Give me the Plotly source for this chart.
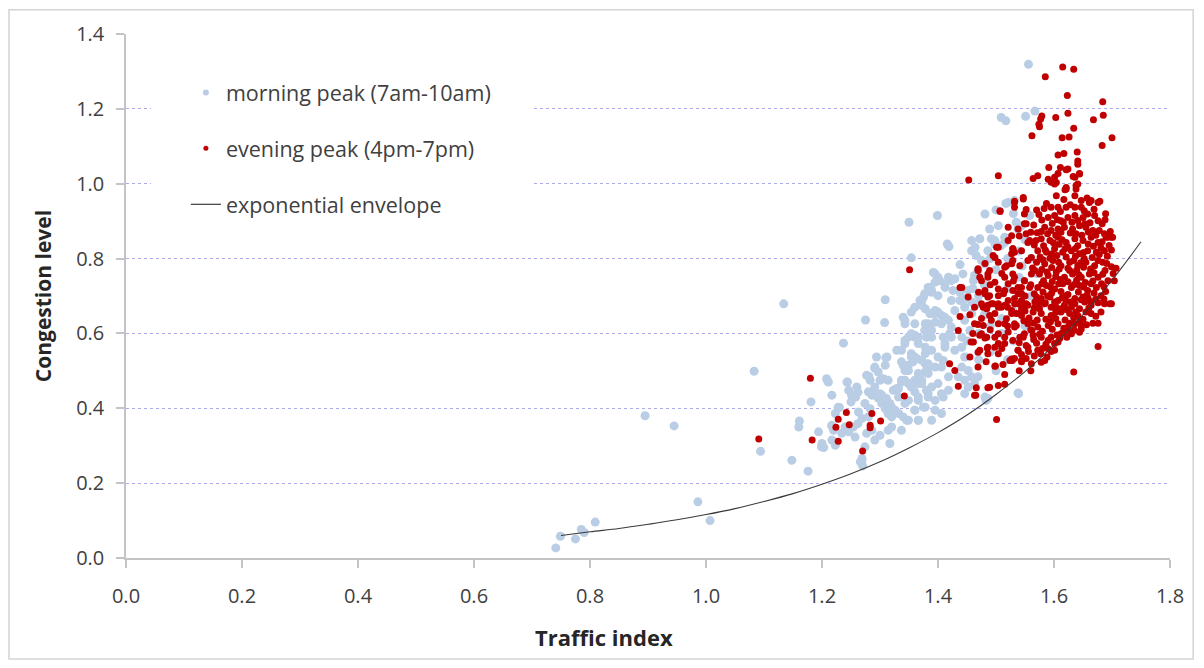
import plotly.graph_objects as go

# ---------------- data ----------------
morning_points = [
    (0.741,0.027),(0.749,0.058),(0.775,0.051),(0.785,0.076),(0.790,0.068),(0.809,0.096),
    (0.895,0.380),(0.945,0.353),(0.986,0.150),(1.007,0.100),(1.083,0.499),(1.094,0.285),
    (1.134,0.679),(1.148,0.261),(1.176,0.232),(1.161,0.366),(1.160,0.350),(1.181,0.417),
    (1.194,0.337),(1.200,0.301),(1.203,0.295),(1.200,0.306),(1.208,0.479),(1.211,0.470),
    (1.217,0.435),(1.237,0.574),(1.243,0.470),(1.246,0.448),(1.251,0.435),(1.260,0.457),
    (1.262,0.443),(1.258,0.430),(1.228,0.403),(1.223,0.386),(1.217,0.355),(1.220,0.341),
    (1.234,0.333),(1.246,0.337),(1.254,0.350),(1.262,0.359),(1.257,0.323),(1.217,0.315),
    (1.223,0.301),(1.263,0.390),(1.274,0.413),(1.283,0.399),(1.280,0.377),(1.269,0.373),
    (1.280,0.444),(1.286,0.435),(1.291,0.435),(1.297,0.427),(1.303,0.413),(1.309,0.399),
    (1.314,0.386),(1.320,0.377),(1.326,0.395),(1.317,0.413),(1.311,0.426),(1.303,0.435),
    (1.277,0.488),(1.283,0.475),(1.291,0.510),(1.297,0.497),(1.306,0.479),(1.314,0.475),
    (1.294,0.537),(1.312,0.537),(1.309,0.515),(1.329,0.555),(1.343,0.573),(1.360,0.590),
    (1.349,0.515),(1.340,0.515),(1.357,0.524),(1.360,0.537),(1.378,0.519),(1.378,0.497),
    (1.372,0.475),(1.360,0.475),(1.349,0.466),(1.337,0.470),(1.329,0.453),(1.323,0.448),
    (1.332,0.430),(1.343,0.413),(1.360,0.444),(1.366,0.421),(1.375,0.403),(1.366,0.368),
    (1.346,0.368),(1.337,0.341),(1.320,0.350),(1.314,0.341),(1.317,0.306),(1.300,0.328),
    (1.291,0.315),(1.286,0.341),(1.277,0.333),(1.274,0.297),(1.269,0.266),(1.266,0.257),
    (1.366,0.466),(1.380,0.448),(1.380,0.590),(1.269,0.261),(1.270,0.246),(1.281,0.485),
    (1.291,0.507),(1.310,0.535),(1.230,0.402),(1.217,0.352),(1.221,0.311),(1.240,0.350),
    (1.244,0.470),(1.250,0.417),(1.275,0.636),(1.308,0.629),(1.309,0.690),(1.340,0.643),
    (1.343,0.626),(1.199,0.297),(1.210,0.472),
    (1.349,0.590),(1.366,0.573),(1.354,0.546),(1.337,0.524),(1.343,0.501),(1.363,0.533),
    (1.378,0.546),(1.383,0.519),(1.383,0.493),(1.395,0.510),(1.343,0.475),(1.332,0.453),
    (1.300,0.475),(1.291,0.457),(1.286,0.439),(1.300,0.439),(1.309,0.426),(1.320,0.403),
    (1.332,0.386),(1.349,0.368),(1.360,0.395),(1.383,0.430),(1.395,0.395),(1.409,0.430),
    (1.409,0.528),(1.412,0.573),(1.372,0.688),(1.378,0.666),(1.389,0.653),(1.400,0.657),
    (1.383,0.626),(1.389,0.608),(1.395,0.759),(1.400,0.741),(1.389,0.715),(1.412,0.723),
    (1.350,0.897),(1.354,0.802),(1.399,0.915),
    (1.416,0.839),(1.419,0.832),(1.438,0.784),(1.458,0.848),(1.472,0.853),(1.458,0.821),
    (1.466,0.808),(1.481,0.919),(1.489,0.879),(1.504,0.888),(1.521,0.950),(1.535,0.897),
    (1.538,0.879),(1.392,0.763),(1.400,0.750),(1.418,0.750),(1.423,0.741),(1.412,0.733),
    (1.395,0.737),(1.383,0.723),(1.375,0.697),(1.389,0.710),(1.400,0.701),(1.426,0.715),
    (1.438,0.710),(1.446,0.693),(1.458,0.684),(1.438,0.688),(1.423,0.688),(1.452,0.715),
    (1.461,0.741),(1.463,0.755),(1.469,0.768),(1.481,0.786),(1.475,0.795),(1.486,0.821),
    (1.498,0.839),(1.492,0.853),(1.509,0.835),(1.515,0.857),(1.517,0.947),(1.532,0.955),
    (1.544,0.888),(1.558,0.915),(1.464,0.830),(1.498,0.848),(1.515,0.843),(1.443,0.759),
    (1.377,0.706),(1.369,0.688),(1.360,0.670),(1.354,0.657),(1.403,0.741),(1.386,0.723),
    (1.429,0.746),(1.412,0.643),(1.395,0.653),(1.383,0.621),(1.377,0.608),(1.360,0.595),
    (1.556,1.319),(1.509,1.177),(1.517,1.168),(1.551,1.180),(1.567,1.194),
    (1.372,0.675),(1.386,0.653),(1.395,0.661),(1.406,0.648),(1.418,0.635),(1.429,0.661),
    (1.446,0.670),(1.458,0.653),(1.469,0.679),(1.343,0.635),(1.360,0.626),(1.378,0.626),
    (1.395,0.630),(1.406,0.626),(1.423,0.617),(1.446,0.635),(1.455,0.608),(1.441,0.590),
    (1.423,0.590),(1.412,0.563),(1.429,0.555),(1.441,0.563),(1.446,0.537),(1.441,0.510),
    (1.452,0.501),(1.458,0.484),(1.446,0.475),(1.435,0.484),(1.418,0.484),(1.406,0.510),
    (1.400,0.537),(1.389,0.555),(1.378,0.563),(1.366,0.590),(1.354,0.599),(1.343,0.581),
    (1.337,0.555),(1.354,0.537),(1.372,0.528),(1.383,0.510),(1.366,0.493),(1.349,0.501),
    (1.337,0.475),(1.354,0.457),(1.372,0.466),(1.389,0.457),(1.383,0.439),(1.366,0.430),
    (1.349,0.421),(1.360,0.395),(1.378,0.403),(1.395,0.421),(1.406,0.439),(1.418,0.448),
    (1.400,0.466),(1.452,0.457),(1.446,0.439),(1.481,0.430),(1.483,0.421),(1.538,0.441),
    (1.340,0.377),(1.366,0.368),(1.389,0.368),(1.406,0.386),(1.469,0.484),(1.463,0.466),
    (1.420,0.599),(1.389,0.590),(1.409,0.590),(1.486,0.426),(1.539,0.439),
    (1.470,0.700),(1.490,0.620),(1.510,0.600),(1.520,0.720),(1.500,0.770),(1.530,0.660),
    (1.460,0.720),(1.480,0.730),(1.510,0.640),(1.540,0.750),(1.550,0.620),(1.560,0.700),
    (1.560,0.800),(1.550,0.850),(1.570,0.760),(1.580,0.680),(1.470,0.600),(1.490,0.550),
    (1.520,0.530),(1.500,0.500),(1.470,0.530),(1.530,0.580),(1.450,0.580),(1.480,0.650),
    (1.520,0.800),(1.540,0.820),(1.490,0.800),(1.530,0.920),(1.500,0.930),(1.545,0.780),
]

evening_points = [
    (1.091,0.318),(1.180,0.480),(1.183,0.315),(1.228,0.371),(1.224,0.349),(1.242,0.389),
    (1.247,0.356),(1.228,0.312),(1.270,0.286),(1.286,0.386),(1.283,0.355),(1.283,0.348),
    (1.301,0.366),(1.342,0.433),(1.351,0.770),
    (1.453,1.010),(1.504,1.021),(1.564,1.014),(1.572,1.021),(1.562,1.128),(1.574,1.159),
    (1.577,1.173),(1.579,1.181),(1.575,1.152),(1.585,1.286),(1.615,1.312),(1.634,1.306),
    (1.623,1.236),(1.624,1.188),(1.603,1.177),(1.634,1.148),(1.614,1.123),(1.626,1.125),
    (1.684,1.219),(1.685,1.183),(1.668,1.171),(1.683,1.102),(1.700,1.123),(1.607,1.077),
    (1.617,1.081),(1.640,1.085),(1.591,1.043),(1.607,1.027),(1.624,1.039),(1.641,1.052),
    (1.644,1.027),(1.590,1.012),(1.595,1.004),(1.604,1.003),(1.636,1.017),(1.641,0.999),
    (1.638,0.986),(1.619,0.984),(1.604,0.968),(1.636,0.968),(1.647,0.955),(1.664,0.955),
    (1.679,0.953),(1.547,0.959),(1.532,0.950),(1.507,0.926),(1.552,0.931),(1.611,1.043),
    (1.621,1.037),(1.641,1.061),(1.621,0.990),(1.601,1.017),(1.633,1.019),(1.644,1.026),
    (1.601,0.999),(1.621,0.986),(1.638,0.995),
    (1.595,0.937),(1.607,0.937),(1.621,0.937),(1.636,0.937),(1.647,0.937),(1.661,0.950),
    (1.676,0.950),(1.532,0.937),(1.549,0.919),(1.552,0.893),(1.538,0.879),
    (1.590,0.910),(1.601,0.915),(1.612,0.901),(1.624,0.910),(1.636,0.915),(1.650,0.910),
    (1.658,0.919),(1.670,0.915),(1.676,0.901),
    (1.584,0.884),(1.595,0.875),(1.607,0.879),(1.618,0.884),(1.632,0.879),(1.644,0.888),
    (1.655,0.884),(1.667,0.875),(1.678,0.875),
    (1.578,0.853),(1.593,0.848),(1.607,0.857),(1.621,0.843),(1.636,0.853),(1.650,0.848),
    (1.664,0.857),(1.676,0.843),(1.693,0.857),(1.701,0.857),
    (1.572,0.821),(1.587,0.817),(1.601,0.826),(1.615,0.817),(1.630,0.821),(1.644,0.813),
    (1.658,0.821),(1.673,0.817),(1.687,0.821),
    (1.570,0.790),(1.584,0.786),(1.598,0.795),(1.612,0.781),(1.627,0.790),(1.641,0.781),
    (1.655,0.790),(1.670,0.781),(1.684,0.790),
    (1.575,0.759),(1.590,0.755),(1.604,0.764),(1.618,0.750),(1.632,0.759),(1.647,0.750),
    (1.661,0.759),(1.676,0.750),(1.693,0.741),
    (1.572,0.723),(1.587,0.728),(1.601,0.719),(1.615,0.733),(1.630,0.723),(1.644,0.728),
    (1.658,0.715),(1.673,0.723),
    (1.578,0.693),(1.593,0.697),(1.607,0.688),(1.621,0.701),(1.636,0.693),(1.650,0.697),
    (1.664,0.684),(1.681,0.701),
    (1.575,0.666),(1.595,0.670),(1.612,0.666),(1.630,0.670),(1.644,0.666),
    (1.521,0.848),(1.529,0.826),(1.544,0.821),(1.555,0.843),(1.527,0.786),(1.541,0.781),
    (1.555,0.795),(1.532,0.750),(1.549,0.741),(1.561,0.759),(1.529,0.715),(1.544,0.706),
    (1.558,0.723),(1.538,0.679),(1.555,0.675),(1.570,0.697),
    (1.532,0.679),(1.549,0.675),(1.567,0.684),(1.584,0.679),(1.601,0.684),(1.618,0.675),
    (1.636,0.679),(1.653,0.684),(1.664,0.675),(1.687,0.679),(1.699,0.679),
    (1.527,0.653),(1.544,0.648),(1.564,0.657),(1.578,0.653),(1.595,0.648),(1.612,0.657),
    (1.627,0.653),(1.641,0.648),(1.655,0.657),
    (1.535,0.621),(1.555,0.626),(1.572,0.617),(1.590,0.621),(1.607,0.626),(1.624,0.617),
    (1.636,0.626),
    (1.667,0.627),(1.676,0.627),(1.644,0.603),(1.647,0.612),(1.612,0.599),(1.584,0.528),
    (1.578,0.523),(1.561,0.519),(1.544,0.528),(1.527,0.532),(1.595,0.590),(1.590,0.559),
    (1.572,0.555),(1.555,0.563),(1.538,0.555),(1.529,0.581),(1.547,0.590),(1.564,0.595),
    (1.578,0.590),(1.630,0.599),(1.601,0.573),
    (1.676,0.565),(1.634,0.497),(1.707,0.774),(1.704,0.741),(1.699,0.857),(1.690,0.857),
    (1.696,0.679),(1.647,0.621),(1.624,0.608),(1.607,0.577),(1.601,0.555),(1.577,0.546),
    (1.544,0.544),(1.528,0.528),(1.512,0.517),(1.498,0.512),(1.483,0.524),(1.469,0.510),
    (1.664,0.653),(1.681,0.657),
    (1.507,0.928),(1.532,0.953),(1.547,0.963),(1.521,0.884),(1.527,0.861),(1.549,0.893),
    (1.552,0.866),(1.501,0.830),(1.495,0.808),(1.504,0.790),(1.529,0.826),(1.532,0.817),
    (1.518,0.781),(1.529,0.795),(1.481,0.787),(1.469,0.773),(1.472,0.750),(1.486,0.750),
    (1.489,0.768),(1.438,0.723),(1.498,0.737),(1.504,0.719),(1.515,0.750),(1.521,0.733),
    (1.515,0.715),(1.504,0.701),(1.489,0.701),(1.481,0.715),(1.475,0.679),(1.484,0.666),
    (1.504,0.679),(1.521,0.688),(1.532,0.693),(1.538,0.706),(1.544,0.723),(1.549,0.741),
    (1.552,0.679),(1.544,0.666),
    (1.438,0.645),(1.469,0.624),(1.478,0.621),(1.486,0.675),(1.495,0.679),(1.504,0.670),
    (1.515,0.675),(1.527,0.661),(1.535,0.653),(1.489,0.648),(1.504,0.626),(1.518,0.639),
    (1.532,0.626),(1.521,0.604),(1.515,0.590),(1.498,0.590),(1.484,0.590),(1.472,0.595),
    (1.461,0.577),(1.472,0.555),(1.486,0.563),(1.504,0.573),(1.515,0.573),(1.541,0.590),
    (1.549,0.599),(1.538,0.555),(1.532,0.533),(1.524,0.528),(1.504,0.546),(1.486,0.546),
    (1.455,0.537),(1.420,0.519),(1.429,0.501),(1.435,0.459),(1.466,0.455),(1.463,0.435),
    (1.486,0.455),(1.504,0.461),(1.515,0.464),(1.552,0.568),(1.552,0.533),(1.544,0.524),
    (1.501,0.370),
    (1.469,0.768),(1.475,0.741),(1.481,0.706),(1.492,0.679),(1.498,0.653),(1.478,0.670),
    (1.486,0.759),(1.498,0.803),(1.504,0.830),(1.515,0.777),(1.527,0.813),(1.529,0.759),
    (1.538,0.723),(1.544,0.688),(1.541,0.653),(1.532,0.617),(1.515,0.626),(1.504,0.599),
    (1.475,0.599),(1.463,0.626),(1.441,0.723),(1.435,0.608),(1.486,0.697),(1.513,0.706),
    (1.509,0.670),(1.492,0.635),(1.463,0.670),(1.452,0.697),(1.558,0.848),(1.561,0.803),
    (1.567,0.768),(1.457,0.577),(1.469,0.550),(1.485,0.561),(1.481,0.588),(1.498,0.563),
    (1.499,0.513),(1.489,0.456),(1.465,0.435),
    (1.583,0.934),(1.611,0.926),(1.628,0.944),(1.652,0.928),(1.669,0.932),(1.689,0.920),
    (1.579,0.903),(1.597,0.894),(1.616,0.897),(1.641,0.902),(1.662,0.896),(1.683,0.893),
    (1.571,0.869),(1.589,0.866),(1.603,0.862),(1.628,0.868),(1.648,0.862),(1.659,0.871),
    (1.687,0.866),(1.566,0.836),(1.582,0.834),(1.609,0.838),(1.624,0.831),(1.641,0.834),
    (1.668,0.833),(1.681,0.829),(1.695,0.835),(1.576,0.804),(1.593,0.801),(1.605,0.808),
    (1.621,0.804),(1.637,0.806),(1.652,0.800),(1.666,0.803),(1.692,0.806),(1.563,0.775),
    (1.579,0.771),(1.596,0.776),(1.609,0.772),(1.624,0.774),(1.639,0.769),(1.651,0.777),
    (1.663,0.772),(1.688,0.768),(1.699,0.778),(1.582,0.741),(1.597,0.739),(1.611,0.744),
    (1.624,0.738),(1.639,0.742),(1.654,0.736),(1.667,0.740),(1.682,0.733),(1.566,0.706),
    (1.581,0.711),(1.596,0.708),(1.612,0.712),(1.624,0.704),(1.642,0.711),(1.657,0.702),
    (1.669,0.708),(1.689,0.712),(1.585,0.682),(1.603,0.672),(1.621,0.686),(1.647,0.690),
    (1.672,0.692),(1.686,0.692),(1.557,0.641),(1.571,0.636),(1.586,0.638),(1.603,0.640),
    (1.619,0.636),(1.634,0.642),(1.650,0.638),(1.672,0.646),(1.562,0.608),(1.580,0.606),
    (1.597,0.611),(1.617,0.614),(1.635,0.609),(1.656,0.623),(1.570,0.574),(1.586,0.571),
    (1.610,0.587),(1.622,0.590),(1.566,0.540),(1.595,0.552),(1.588,0.537),(1.540,0.500),
    (1.515,0.490),(1.560,0.500),
    (1.587,0.947),(1.617,0.958),(1.657,0.962),(1.574,0.918),(1.606,0.904),(1.631,0.897),
    (1.653,0.893),(1.688,0.904),(1.578,0.872),(1.612,0.870),(1.638,0.866),(1.672,0.862),
    (1.697,0.872),(1.569,0.848),(1.599,0.842),(1.614,0.850),(1.659,0.839),(1.683,0.845),
    (1.585,0.823),(1.596,0.812),(1.619,0.826),(1.637,0.827),(1.651,0.816),(1.678,0.811),
    (1.699,0.823),(1.581,0.797),(1.608,0.790),(1.634,0.795),(1.646,0.789),(1.676,0.795),
    (1.691,0.787),(1.588,0.764),(1.603,0.752),(1.627,0.768),(1.643,0.757),(1.669,0.762),
    (1.684,0.758),(1.702,0.760),(1.579,0.733),(1.594,0.724),(1.608,0.733),(1.635,0.731),
    (1.651,0.724),(1.664,0.733),(1.686,0.725),(1.574,0.681),(1.589,0.700),(1.614,0.695),
    (1.629,0.684),(1.659,0.693),(1.676,0.682),(1.566,0.668),(1.603,0.657),(1.620,0.664),
    (1.638,0.657),(1.660,0.668),(1.548,0.634),(1.565,0.628),(1.594,0.631),(1.627,0.627),
    (1.645,0.634),(1.575,0.598),(1.605,0.596),(1.590,0.582),(1.616,0.603),(1.556,0.552),
    (1.580,0.560),(1.565,0.584),(1.540,0.575),(1.520,0.620),(1.510,0.560),(1.490,0.610),
    (1.475,0.640),(1.460,0.600),(1.455,0.650),(1.490,0.730),(1.510,0.760),(1.520,0.670),
    (1.470,0.710),(1.530,0.740),(1.550,0.700),(1.560,0.730),(1.550,0.660),(1.560,0.610),
    (1.560,0.870),(1.540,0.860),(1.565,0.890),(1.570,0.930),
]

# exponential envelope, every 0.05
envelope_x = [0.75, 0.80, 0.85, 0.90, 0.95, 1.00, 1.05, 1.10, 1.15, 1.20, 1.25,
              1.30, 1.35, 1.40, 1.45, 1.50, 1.55, 1.60, 1.65, 1.70, 1.75]
envelope_y = [0.060, 0.070, 0.079, 0.090, 0.102, 0.116, 0.132, 0.151, 0.172, 0.197, 0.225,
              0.257, 0.294, 0.335, 0.382, 0.437, 0.498, 0.569, 0.650, 0.742, 0.845]

series_names = ["morning peak (7am-10am)", "evening peak (4pm-7pm)", "exponential envelope"]
y_ticks = [0.0, 0.2, 0.4, 0.6, 0.8, 1.0, 1.2, 1.4]
x_ticks = [0.0, 0.2, 0.4, 0.6, 0.8, 1.0, 1.2, 1.4, 1.6, 1.8]

# ---------------- styling ----------------
BLUE = "#b9cde5"
RED = "#c00000"
LINE = "#3a3a3a"
AXIS = "#c4c4c4"
GRID = "#a9a9f0"
TXT = "#404040"
FONT = "Open Sans"

mx = [p[0] for p in morning_points]
my = [p[1] for p in morning_points]
ex = [p[0] for p in evening_points]
ey = [p[1] for p in evening_points]

fig = go.Figure()
fig.add_trace(go.Scatter(x=mx, y=my, mode="markers", showlegend=False, hoverinfo="skip",
                         marker=dict(color=BLUE, size=9, line=dict(width=0))))
fig.add_trace(go.Scatter(x=ex, y=ey, mode="markers", showlegend=False, hoverinfo="skip",
                         marker=dict(color=RED, size=7, line=dict(width=0))))
fig.add_trace(go.Scatter(x=envelope_x, y=envelope_y, mode="lines", showlegend=False,
                         hoverinfo="skip", line=dict(color=LINE, width=1.1, shape="spline")))

# legend entries (small symbols, like the reference)
fig.add_trace(go.Scatter(x=[None], y=[None], mode="markers", name=series_names[0], legendgroup="g1",
                         marker=dict(color=BLUE, size=6)))
fig.add_trace(go.Scatter(x=[None], y=[None], mode="markers", name=series_names[1], legendgroup="g2",
                         marker=dict(color=RED, size=5)))
fig.add_trace(go.Scatter(x=[None], y=[None], mode="lines", name=series_names[2], legendgroup="g3",
                         line=dict(color=LINE, width=1.2)))

# page is drawn with an 8px body margin -> figure occupies page (8,8)-(1196,660)
OFF = 8
W, H = 1188, 652
L, T = 118, 25
R = 24
B = 102
pw, ph = W - L - R, H - T - B

def px_x(page_x):
    return (page_x - OFF - L) / pw

def px_y(page_y):
    return (H - B - (page_y - OFF)) / ph

fig.update_layout(
    width=W, height=H,
    margin=dict(l=L, r=R, t=T, b=B, pad=0),
    paper_bgcolor="white", plot_bgcolor="white",
    font=dict(family=FONT, color=TXT, size=20),
    legend=dict(x=px_x(186), y=px_y(71), xanchor="left", yanchor="top",
                bgcolor="rgba(0,0,0,0)", borderwidth=0,
                font=dict(family=FONT, size=21.5, color=TXT),
                tracegroupgap=25, itemclick=False),
    xaxis=dict(range=[0, 1.8], tickvals=x_ticks, tickformat=".1f",
               showgrid=False, zeroline=False, showline=True, linecolor=AXIS, linewidth=1.5,
               ticks="outside", ticklen=8, tickcolor=AXIS, tickwidth=1.5,
               ticklabelstandoff=11, tickfont=dict(family=FONT, size=20, color=TXT)),
    yaxis=dict(range=[0, 1.4], tickvals=y_ticks, tickformat=".1f",
               showgrid=True, gridcolor=GRID, griddash="dot", gridwidth=1,
               zeroline=False, showline=True, linecolor=AXIS, linewidth=1.5,
               ticks="outside", ticklen=8, tickcolor=AXIS, tickwidth=1.5,
               ticklabelstandoff=8, tickfont=dict(family=FONT, size=20, color=TXT)),
    shapes=[
        dict(type="rect", xref="x", yref="y", x0=0.043, x1=0.70, y0=0.9, y1=1.3,
             fillcolor="white", line=dict(width=0), layer="between"),
        dict(type="rect", xref="paper", yref="paper",
             x0=px_x(8.8), x1=px_x(1195.2), y0=px_y(659.2), y1=px_y(8.8),
             line=dict(color="#d4d4d4", width=1.5), fillcolor="rgba(0,0,0,0)", layer="below"),
    ],
    annotations=[
        dict(text="<b>Congestion level</b>", xref="paper", yref="paper",
             x=px_x(43), y=0.5, textangle=-90, showarrow=False,
             xanchor="center", yanchor="middle",
             font=dict(family=FONT, size=21, color="#262626")),
        dict(text="<b>Traffic index</b>", xref="paper", yref="paper",
             x=px_x(605), y=px_y(637), showarrow=False,
             xanchor="center", yanchor="middle",
             font=dict(family=FONT, size=22, color="#262626")),
    ],
)

fig.write_html("out.html")
